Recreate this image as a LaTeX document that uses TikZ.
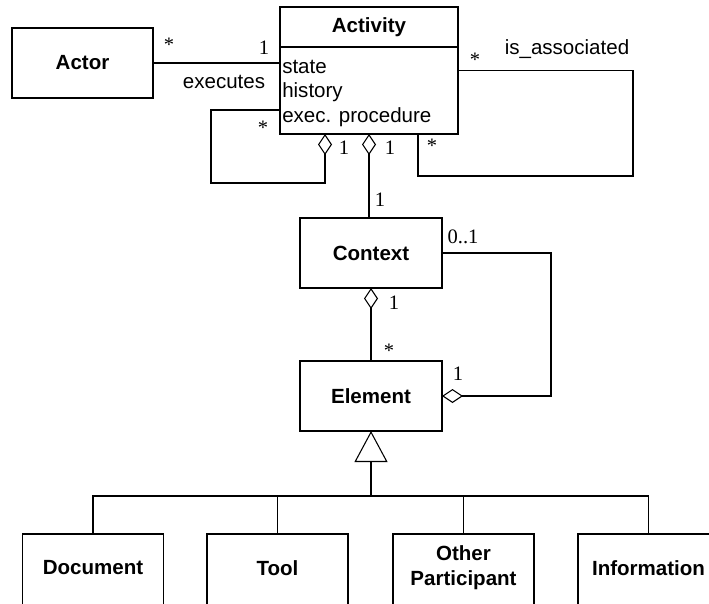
\documentclass[tikz,border=0pt]{standalone}
\usepackage{fontspec}
\setmainfont{Liberation Sans}
\newfontfamily\multfont{Liberation Serif}
\usetikzlibrary{arrows.meta,positioning}
\newcommand\umlsize{\fontsize{15.4}{18.8}\selectfont}
\tikzset{cls/.style ={
        rectangle,
        draw=black,
        line width=0.8pt,
        inner sep=0pt,
        outer sep=0pt,
        align=center,
        font=\umlsize\bfseries
    },
    title/.style ={
        inner sep=0pt,
        align=center,
        font=\umlsize\bfseries
    },
    attr/.style ={
        anchor=base west,
        inner sep=0pt,
        font=\umlsize
    },
    mult/.style ={
        font=\umlsize\multfont,
        inner sep=0pt
    },
    lbl/.style ={
        inner sep=0pt,
        font=\umlsize
    },
    assoc/.style ={
        draw,
        line width=0.8pt
    },
    aggr/.style ={
        draw,
        line width=0.8pt,
        arrows={Diamond[open,length=15.75pt,width=10.5pt]-}
    },
    gen/.style ={
        draw,
        line width=0.8pt,
        arrows={-Triangle[open,length=23.25pt,width=24.75pt]}
    }}

\begin{document}
\begin{tikzpicture}
    [
    x=0.75pt, y=-0.75pt,
    small/.style={minimum width=105.75pt, minimum height=52.5pt},
    sub/.style={minimum width=105.75pt, minimum height=54pt}
    ]
    \useasboundingbox (0,0) rectangle (709,603);

    \node (actor)[cls,small] at (82.5,63) {Actor};
    \node (activity)[cls,minimum width=133.5pt,minimum height=95.25pt] at (369,70.5) {};
    \node (acttitle)[title] at (369,27) {Activity};
    \draw[assoc] (activity.north west) ++(0,40) -- ++(178,0);
    \node (state)[attr] at (282,73) {state};
    \node (history)[attr] at (282,97.5) {history};
    \node (procedure)[attr] at (282,122) {exec. procedure};
    \node (context)[cls,minimum width=106.5pt,minimum height=52.5pt] at (371,253) {Context};
    \node (element)[cls,minimum width=106.5pt,minimum height=52.5pt] at (371,396) {Element};

    \node (document)[cls,sub,anchor=north] at (93,534) {};
    \node (tool)[cls,sub,anchor=north] at (277.5,534) {};
    \node (other)[cls,sub,anchor=north] at (463.5,534) {};
    \node (information)[cls,sub,anchor=north] at (648.5,534) {};
    \node (doctext)[title] at (93,568) {Document};
    \node (tooltext)[title] at (277.5,568) {Tool};
    \node (othertext)[title] at (463.5,568) {Other\\Participant};
    \node (infotext)[title] at (648.5,568) {Information};

    \coordinate (selfagg) at (325,134);
    \coordinate (selfbend) at (211,183);
    \coordinate (selfin) at (280,110);
    \coordinate (assocR) at (633,176);
    \coordinate (assocB) at (418,134);
    \coordinate (rloop) at (551,300);
    \coordinate (bus) at (371,496);

    \draw[assoc] (actor.east) -- (actor.east -| activity.west);
    \draw[aggr] (selfagg) |- (selfbend) |- (selfin);
    \draw[aggr] (activity.south) -- (activity.south |- context.north);
    \draw[assoc] (activity.east) -| (assocR) -| (assocB);
    \draw[aggr] (context.south) -- (element.north);
    \draw[aggr] (element.east) -| (rloop) |- (context.east);
    \draw[gen] (bus) -- (element.south);
    \draw[assoc] (document.north) |- (bus) -| (information.north);
    \draw[assoc] (tool.north) -- (tool.north |- bus);
    \draw[assoc] (other.north) -- (other.north |- bus);

    \node (actstar)[mult] at (169,45) {*};
    \node (actone)[mult] at (264,48) {1};
    \node (executes)[lbl] at (224,82) {executes};
    \node (selfstar)[mult] at (263,128) {*};
    \node (selfone)[mult] at (344,148) {1};
    \node (partone)[mult] at (390,148) {1};
    \node (ctxone)[mult] at (380,200) {1};
    \node (assocstar)[mult] at (475,60) {*};
    \node (isassoc)[lbl] at (567,49) {is\_associated};
    \node (assocstarb)[mult] at (432,146) {*};
    \node (ctxopt)[mult] at (463,237) {0..1};
    \node (elemone)[mult] at (458,374) {1};
    \node (ctxagg)[mult] at (394,303) {1};
    \node (elemstar)[mult] at (389,351) {*};

\end{tikzpicture}
\end{document}
